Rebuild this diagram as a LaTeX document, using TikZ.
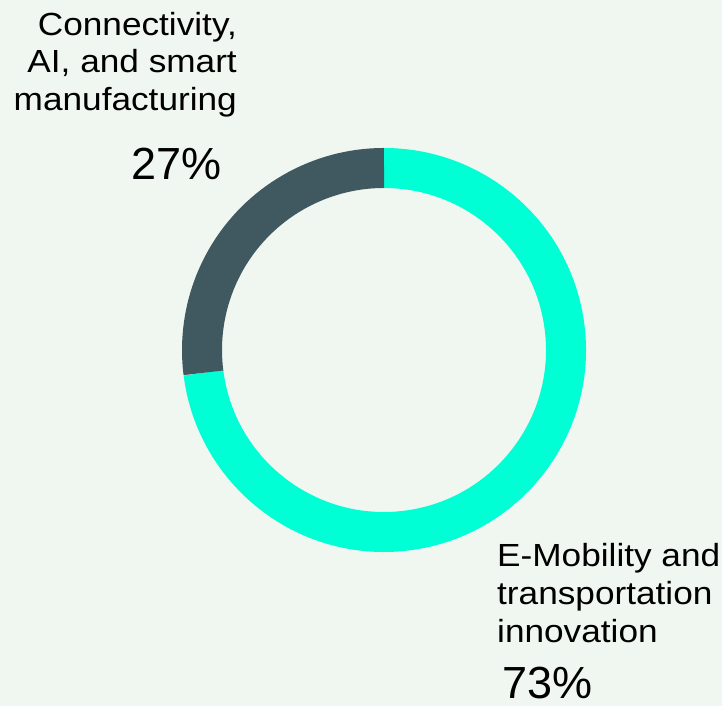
\documentclass[tikz,border=0pt]{standalone}
\usepackage{fontspec}
\setmainfont[FakeStretch=1.1]{Liberation Sans}
\newfontfamily\numfont{Liberation Sans}
\definecolor{bgcol}{HTML}{F0F6F0}
\definecolor{darkseg}{HTML}{40585F}
\definecolor{tealseg}{HTML}{00FFD5}
\begin{document}
\begin{tikzpicture}[x=1pt,y=1pt,
  lbl/.style={inner sep=0pt, font=\fontsize{32}{38}\selectfont, text=black},
  pct/.style={inner sep=0pt, font=\numfont\fontsize{45}{50}\selectfont, text=black},
  seg/.style={line width=40pt, line cap=butt}]
\fill[bgcol] (0,0) rectangle (722,706);
\useasboundingbox (0,0) rectangle (722,706);
\coordinate (c) at (384,356);
% ring segments
\draw[seg, tealseg] (c) ++(187.2:182) arc[start angle=187.2, end angle=450, radius=182];
\draw[seg, darkseg] (c) ++(90:182) arc[start angle=90, end angle=187.2, radius=182];
% top-left label
\node[lbl, anchor=base east] (t1) at (237,670.5) {Connectivity,};
\node[lbl, anchor=base east] (t2) at (237,633) {AI, and smart};
\node[lbl, anchor=base east] (t3) at (237,595.5) {manufacturing};
\node[pct, anchor=base west] (p1) at (131,526) {27\%};
% bottom-right label
\node[lbl, anchor=base west] (b1) at (497,139) {E-Mobility and};
\node[lbl, anchor=base west] (b2) at (497,101) {transportation};
\node[lbl, anchor=base west] (b3) at (497,63) {innovation};
\node[pct, anchor=base west] (p2) at (502,7) {73\%};
\end{tikzpicture}
\end{document}
